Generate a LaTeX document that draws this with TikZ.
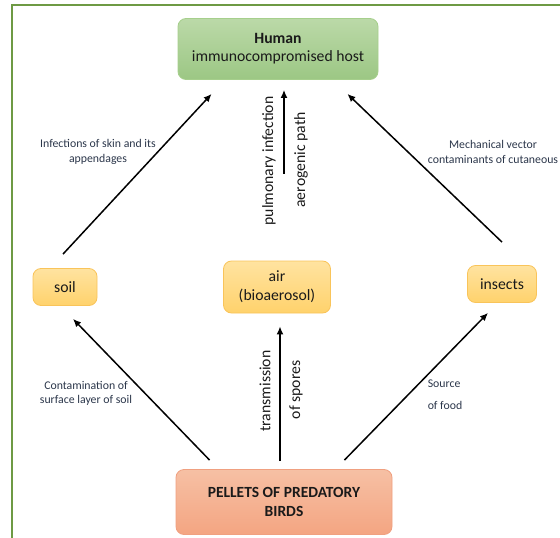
\documentclass[tikz,border=0pt]{standalone}
\usepackage{fontspec}
\setmainfont{Carlito}
\usetikzlibrary{arrows.meta, positioning}
\definecolor{framegreen}{HTML}{6E9A44}
\definecolor{hosttop}{HTML}{BBD9A8}
\definecolor{hostbot}{HTML}{9CC784}
\definecolor{hostline}{HTML}{A6CF8C}
\definecolor{srctop}{HTML}{FFE3A0}
\definecolor{srcbot}{HTML}{FFD26C}
\definecolor{srcline}{HTML}{F9C45A}
\definecolor{pellettop}{HTML}{F6C0A4}
\definecolor{pelletbot}{HTML}{F4A582}
\definecolor{pelletline}{HTML}{F0A080}
\definecolor{lbltext}{HTML}{2B364A}
\definecolor{boxtext}{HTML}{1A1A1A}

\begin{document}
\begin{tikzpicture}[x=1pt, y=-1pt,
      box/.style={draw, rounded corners=8pt, line width=0.8pt, align=center, inner sep=0pt, text=boxtext, font=\fontsize{15.7}{18}\selectfont},
      hostbox/.style={box, draw=hostline, top color=hosttop, bottom color=hostbot, minimum width=200pt, minimum height=61pt},
      srcbox/.style={box, draw=srcline, top color=srctop, bottom color=srcbot, minimum height=37pt},
      pelletbox/.style={box, draw=pelletline, top color=pellettop, bottom color=pelletbot, minimum width=216pt, minimum height=65pt, font=\fontsize{15.5}{19}\selectfont\bfseries},
      arr/.style={-{Latex[width=7pt, length=8pt]}, line width=1.5pt},
      lbl/.style={text=lbltext, align=center, font=\fontsize{11.8}{15}\selectfont},
      rot/.style={rotate=90, text=boxtext, font=\fontsize{15.7}{19}\selectfont}]
      \useasboundingbox (0,0) rectangle (560,538);
      \draw[framegreen, line width=2pt] (12,540) -- (12,5) -- (562,5);

      \node[hostbox] (human) at (278,49) {\textbf{Human}\\immunocompromised host};
      \node[srcbox, minimum width=64pt] (soil) at (65,287) {soil};
      \node[srcbox, minimum width=107pt, minimum height=52pt, font=\fontsize{15.7}{19}\selectfont] (air) at (277,287) {air\\(bioaerosol)};
      \node[srcbox, minimum width=69pt] (insects) at (502,284) {insects};
      \node[pelletbox] (pellets) at (284,502) {PELLETS OF PREDATORY\\BIRDS};

      % arrow ends
      \coordinate (soilout) at ([xshift=-2pt, yshift=14pt]soil.north);
      \coordinate (airout) at ([xshift=7pt, yshift=87pt]air.north);
      \coordinate (insout) at ([yshift=23pt]insects.north);
      \coordinate (humanl) at ([xshift=34pt, yshift=-14pt]human.south west);
      \coordinate (humanm) at ([xshift=6pt, yshift=-10pt]human.south);
      \coordinate (humanr) at ([xshift=-31pt, yshift=-14pt]human.south east);
      \coordinate (pell) at ([xshift=34pt, yshift=9pt]pellets.north west);
      \coordinate (pelm) at ([xshift=-4pt, yshift=8pt]pellets.north);
      \coordinate (pelr) at ([xshift=-48pt, yshift=9pt]pellets.north east);
      \coordinate (soilin) at ([xshift=8pt, yshift=-13pt]soil.south);
      \coordinate (airin) at ([xshift=3pt, yshift=-13pt]air.south);
      \coordinate (insin) at ([xshift=-14pt, yshift=-10pt]insects.south);

      \draw[arr] (soilout) -- (humanl);
      \draw[arr] (airout) -- (humanm);
      \draw[arr] (insout) -- (humanr);
      \draw[arr] (pell) -- (soilin);
      \draw[arr] (pelm) -- (airin);
      \draw[arr] (pelr) -- (insin);

      % labels
      \node[lbl] (skin) at (98,152) {Infections of skin and its\\appendages};
      \node[lbl] (vector) at (493,152) {Mechanical vector\\contaminants of cutaneous};
      \node[rot] (pulm) at (269,161) {pulmonary infection};
      \node[rot] (aero) at (301,160) {aerogenic path};
      \node[lbl, font=\fontsize{11.8}{14}\selectfont] (contam) at (86,393) {Contamination of\\surface layer of soil};
      \node[lbl, align=left, font=\fontsize{11.8}{22}\selectfont] (food) at (445,395) {Source\\of food};
      \node[rot] (trans) at (265,391) {transmission};
      \node[rot] (spores) at (296,390) {of spores};
\end{tikzpicture}
\end{document}
